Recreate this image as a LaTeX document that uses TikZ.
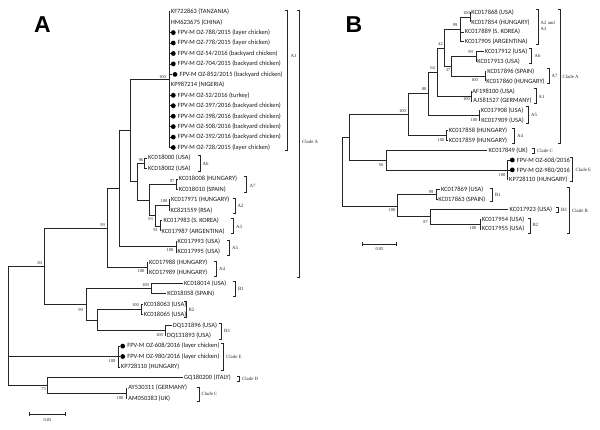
\documentclass[tikz,border=0pt]{standalone}
\usepackage{fontspec}
\setmainfont{Carlito}
\newfontfamily\serifnum{Liberation Serif}
\newfontfamily\boldsans{Liberation Sans}
\newcommand\pleaf[4]{\node[leaf] (#1) at (#2,#3) {#4};}
\newcommand\pdot[4]{\node[dot] (#1) at (#2+2.3,#3) {};\node[leaf] (#1t) at (#2+5.5,#3) {#4};}
\newcommand\pbrk[3]{\draw[bk] (#1-2.5,#2) -- (#1,#2) -- (#1,#3) -- (#1-2.5,#3);}
\begin{document}
\begin{tikzpicture}[x=1pt,y=-1pt,
  br/.style={draw=black!85, line width=0.8pt},
  leaf/.style={anchor=west, inner xsep=1.2pt, inner ysep=0pt, font=\fontsize{6.45}{7.5}\selectfont, text=black!90},
  bs/.style={font=\serifnum\fontsize{4.5}{5}\selectfont, inner sep=0pt, text=black!85},
  cl/.style={anchor=west, font=\serifnum\fontsize{4.8}{5.8}\selectfont, inner sep=0pt, text=black!85, align=left},
  dot/.style={circle, fill=black, inner sep=0pt, minimum size=4.8pt},
  bk/.style={draw=black!85, line width=0.8pt},
  panel/.style={font=\boldsans\bfseries\fontsize{23}{25}\selectfont, inner sep=0pt}]
\useasboundingbox (0,0) rectangle (600,429);

% ---------------- Panel A ----------------
\node[panel] (LA) at (42.5,25) {A};
% internal nodes
\coordinate (rA) at (8.3,326);
\coordinate (V) at (44.3,266.6);
\coordinate (U) at (107,228.2);
\coordinate (T) at (119,188.7);
\coordinate (Q) at (130.7,130.6);
\coordinate (R) at (137,181.6);
\coordinate (S) at (149.3,200);
\coordinate (N23) at (155,215.5);
\coordinate (nA1) at (169,79.6);
\coordinate (nA6) at (144.3,163.2);
\coordinate (nA7) at (176,184.1);
\coordinate (nA2) at (169,205.0);
\coordinate (nA3) at (160.3,225.9);
\coordinate (nA5) at (176,246.8);
\coordinate (nA4) at (147.3,267.7);
\coordinate (BA) at (86,304.3);
\coordinate (nB1) at (151.7,288.6);
\coordinate (W) at (97.3,320);
\coordinate (nB2) at (141.7,309.5);
\coordinate (nB3) at (165,330.4);
\coordinate (nE) at (118.3,356.5);
\coordinate (DC) at (47.7,385.3);
\coordinate (nC) at (126,393.1);

% leaves
\pleaf{a0}{169.5}{11.7}{KF722863 (TANZANIA)}
\pleaf{a1}{169.5}{22.1}{HM623675 (CHINA)}
\pdot{a2}{171}{32.6}{FPV-M OZ-788/2015 (layer chicken)}
\pdot{a3}{171}{43.0}{FPV-M OZ-778/2015 (layer chicken)}
\pdot{a4}{171}{53.5}{FPV-M OZ-54/2016 (backyard chicken)}
\pdot{a5}{171}{63.9}{FPV-M OZ-704/2015 (backyard chicken)}
\pdot{a6}{172.7}{74.4}{FPV-M OZ-852/2015 (backyard chicken)}
\pleaf{a7}{169.5}{84.8}{KP987214 (NIGERIA)}
\pdot{a8}{171}{95.3}{FPV-M OZ-52/2016 (turkey)}
\pdot{a9}{171}{105.7}{FPV-M OZ-397/2016 (backyard chicken)}
\pdot{a10}{171}{116.2}{FPV-M OZ-398/2016 (backyard chicken)}
\pdot{a11}{171}{126.6}{FPV-M OZ-508/2016 (backyard chicken)}
\pdot{a12}{171}{137.1}{FPV-M OZ-392/2016 (backyard chicken)}
\pdot{a13}{171}{147.5}{FPV-M OZ-728/2015 (layer chicken)}
\pleaf{a14}{146.8}{158.0}{KC018000 (USA)}
\pleaf{a15}{146.8}{168.4}{KC018002 (USA)}
\pleaf{a16}{177.5}{178.9}{KC018008 (HUNGARY)}
\pleaf{a17}{177.5}{189.3}{KC018010 (SPAIN)}
\pleaf{a18}{169.8}{199.8}{KC017971 (HUNGARY)}
\pleaf{a19}{169.3}{210.2}{KC821559 (RSA)}
\pleaf{a20}{162.3}{220.7}{KC017983 (S. KOREA)}
\pleaf{a21}{160.3}{231.1}{KC017987 (ARGENTINA)}
\pleaf{a22}{176.3}{241.6}{KC017993 (USA)}
\pleaf{a23}{176.3}{252.0}{KC017995 (USA)}
\pleaf{a24}{147.8}{262.5}{KC017988 (HUNGARY)}
\pleaf{a25}{147.8}{272.9}{KC017989 (HUNGARY)}
\pleaf{a26}{182.7}{283.4}{KC018014 (USA)}
\pleaf{a27}{166}{293.8}{KC018058 (SPAIN)}
\pleaf{a28}{142.5}{304.3}{KC018063 (USA)}
\pleaf{a29}{142.5}{314.7}{KC018065 (USA)}
\pleaf{a30}{171.5}{325.2}{DQ131896 (USA)}
\pleaf{a31}{165.5}{335.6}{DQ131893 (USA)}
\pdot{a32}{120.4}{346.1}{FPV-M OZ-608/2016 (layer chicken)}
\pdot{a33}{120.4}{356.5}{FPV-M OZ-980/2016 (layer chicken)}
\pleaf{a34}{119.5}{367.0}{KP728110 (HUNGARY)}
\pleaf{a35}{182.7}{377.4}{GQ180200 (ITALY)}
\pleaf{a36}{127}{387.9}{AY530311 (GERMANY)}
\pleaf{a37}{127}{398.3}{AM050383 (UK)}

% branches
\draw[br] (rA) |- (V);
\draw[br] (rA) |- (nE);
\draw[br] (rA) |- (DC);
\draw[br] (V) |- (U);
\draw[br] (V) |- (BA);
\draw[br] (U) |- (T);
\draw[br] (U) |- (nA4);
\draw[br] (T) |- (Q);
\draw[br] (T) |- (nA5);
\draw[br] (Q) |- (nA1);
\draw[br] (Q) |- (R);
\draw[br] (R) |- (nA6);
\draw[br] (R) |- (S);
\draw[br] (S) |- (nA7);
\draw[br] (S) |- (N23);
\draw[br] (N23) |- (nA2);
\draw[br] (N23) |- (nA3);
\foreach \l in {a0,a1,a7} \draw[br] (nA1) |- (\l.west);
\foreach \l in {a2,a3,a4,a5,a6,a8,a9,a10,a11,a12,a13} \draw[br] (nA1) |- (\l.west);
\draw[br] (nA6) |- (a14.west);
\draw[br] (nA6) |- (a15.west);
\draw[br] (nA7) |- (a16.west);
\draw[br] (nA7) |- (a17.west);
\draw[br] (nA2) |- (a18.west);
\draw[br] (nA2) |- (a19.west);
\draw[br] (nA3) |- (a20.west);
\draw[br] (nA3) |- (a21.west);
\draw[br] (nA5) |- (a22.west);
\draw[br] (nA5) |- (a23.west);
\draw[br] (nA4) |- (a24.west);
\draw[br] (nA4) |- (a25.west);
\draw[br] (BA) |- (nB1);
\draw[br] (BA) |- (W);
\draw[br] (W) |- (nB2);
\draw[br] (W) |- (nB3);
\draw[br] (nB1) |- (a26.west);
\draw[br] (nB1) |- (a27.west);
\draw[br] (nB2) |- (a28.west);
\draw[br] (nB2) |- (a29.west);
\draw[br] (nB3) |- (a30.west);
\draw[br] (nB3) |- (a31.west);
\draw[br] (nE) |- (a32.west);
\draw[br] (nE) |- (a33.west);
\draw[br] (nE) |- (a34.west);
\draw[br] (DC) |- (a35.west);
\draw[br] (DC) |- (nC);
\draw[br] (nC) |- (a36.west);
\draw[br] (nC) |- (a37.west);

% bootstrap values
\node[bs] (ba1) at (162.5,76.7) {100};
\node[bs] (ba2) at (141,160) {96};
\node[bs] (ba3) at (172,181) {97};
\node[bs] (ba4) at (164,201.5) {100};
\node[bs] (ba5) at (150.5,219.3) {93};
\node[bs] (ba6) at (155.5,230) {91};
\node[bs] (ba7) at (170,250) {100};
\node[bs] (ba8) at (141,271.5) {100};
\node[bs] (ba9) at (102.5,225) {99};
\node[bs] (ba10) at (40,263.5) {83};
\node[bs] (ba11) at (80.5,310) {99};
\node[bs] (ba12) at (145.5,285) {100};
\node[bs] (ba13) at (135.5,305) {100};
\node[bs] (ba14) at (159.5,335) {100};
\node[bs] (ba15) at (112,361.5) {100};
\node[bs] (ba16) at (43.5,389.5) {73};
\node[bs] (ba17) at (120,398.3) {100};

% clade brackets
\pbrk{287.5}{10}{150}   \node[cl] (cA1) at (290.5,56) {A1};
\pbrk{299.3}{10}{277}   \node[cl] (cAA) at (302,142) {Clade A};
\pbrk{200}{155}{171.7}  \node[cl] (cA6) at (202.5,164) {A6};
\pbrk{246.7}{176.7}{192.7} \node[cl] (cA7) at (249.5,186) {A7};
\pbrk{235}{198}{213}    \node[cl] (cA2) at (237.5,205.5) {A2};
\pbrk{233.3}{218}{233}  \node[cl] (cA3) at (236,226.5) {A3};
\pbrk{229.3}{240}{255}  \node[cl] (cA5) at (232,247.5) {A5};
\pbrk{216.7}{261}{276}  \node[cl] (cA4) at (219,268.5) {A4};
\pbrk{235}{281.7}{296.7} \node[cl] (cB1) at (238,289) {B1};
\pbrk{186}{301.7}{317.3} \node[cl] (cB2) at (188.5,309.5) {B2};
\pbrk{221}{323}{339}    \node[cl] (cB3) at (224,331) {B3};
\pbrk{223.2}{343}{370}  \node[cl] (cAE) at (226,357) {Clade E};
\pbrk{239.3}{376}{381.7} \node[cl] (cAD) at (242,379) {Clade D};
\pbrk{199}{387}{401.7}  \node[cl] (cAC) at (201.5,394.3) {Clade C};

% scale bar A
\coordinate (sa1) at (29.3,414);
\coordinate (sa2) at (65.7,414);
\draw[br] (sa1) -- (sa2);
\draw[br] ([yshift=-2pt]sa1) -- ([yshift=2pt]sa1);
\draw[br] ([yshift=-2pt]sa2) -- ([yshift=2pt]sa2);
\node[bs] (sta) at (47.5,420.5) {0.05};

% ---------------- Panel B ----------------
\node[panel] (LB) at (354,25) {B};
\coordinate (rB) at (342.3,171.6);
\coordinate (G7) at (349.3,137.3);
\coordinate (G6) at (408.3,114.6);
\coordinate (G5) at (428.3,93.85);
\coordinate (G4) at (437.3,72);
\coordinate (G2) at (444,48);
\coordinate (G1) at (460,29.5);
\coordinate (P1) at (470,17.2);
\coordinate (G3) at (451.7,66.5);
\coordinate (bA6) at (476,56.6);
\coordinate (bA7) at (485,76.3);
\coordinate (bA1) at (471,96);
\coordinate (bA5) at (479.3,115.7);
\coordinate (bA4) at (446.7,135.4);
\coordinate (H) at (386,160);
\coordinate (bE) at (507.3,169.9);
\coordinate (BB) at (397.3,205.9);
\coordinate (bB1) at (436.7,194.5);
\coordinate (BB2) at (430,216.7);
\coordinate (bB2) at (480,224.1);

\pleaf{b0}{470}{12.3}{KC017868 (USA)}
\pleaf{b1}{470}{22.15}{KC017854 (HUNGARY)}
\pleaf{b2}{463.5}{32.0}{KC017889 (S. KOREA)}
\pleaf{b3}{463.5}{41.85}{KC017905 (ARGENTINA)}
\pleaf{b4}{483.5}{51.7}{KC017912 (USA)}
\pleaf{b5}{476}{61.55}{KC017913 (USA)}
\pleaf{b6}{486}{71.4}{KC017896 (SPAIN)}
\pleaf{b7}{485}{81.25}{KC017860 (HUNGARY)}
\pleaf{b8}{471}{91.1}{AF198100 (USA)}
\pleaf{b9}{472}{100.95}{AJ581527 (GERMANY)}
\pleaf{b10}{479.5}{110.8}{KC017908 (USA)}
\pleaf{b11}{480}{120.65}{KC017909 (USA)}
\pleaf{b12}{447.5}{130.5}{KC017858 (HUNGARY)}
\pleaf{b13}{447.5}{140.35}{KC017859 (HUNGARY)}
\pleaf{b14}{487.3}{150.2}{KC017849 (UK)}
\pdot{b15}{510}{160.05}{FPV-M OZ-608/2016}
\pdot{b16}{510}{169.9}{FPV-M OZ-980/2016}
\pleaf{b17}{507.8}{179.75}{KP728110 (HUNGARY)}
\pleaf{b18}{439.7}{189.6}{KC017869 (USA)}
\pleaf{b19}{437}{199.45}{KC017863 (SPAIN)}
\pleaf{b20}{508.3}{209.3}{KC017923 (USA)}
\pleaf{b21}{480.5}{219.15}{KC017954 (USA)}
\pleaf{b22}{480.5}{229.0}{KC017955 (USA)}

\draw[br] (rB) |- (G7);
\draw[br] (rB) |- (BB);
\draw[br] (G7) |- (G6);
\draw[br] (G7) |- (H);
\draw[br] (G6) |- (G5);
\draw[br] (G6) |- (bA4);
\draw[br] (G5) |- (G4);
\draw[br] (G5) |- (bA5);
\draw[br] (G4) |- (G2);
\draw[br] (G4) |- (bA1);
\draw[br] (G2) |- (G1);
\draw[br] (G2) |- (G3);
\draw[br] (G1) |- (P1);
\draw[br] (G1) |- (b2.west);
\draw[br] (G1) |- (b3.west);
\draw[br] (P1) |- (b0.west);
\draw[br] (P1) |- (b1.west);
\draw[br] (G3) |- (bA6);
\draw[br] (G3) |- (bA7);
\draw[br] (bA6) |- (b4.west);
\draw[br] (bA6) |- (b5.west);
\draw[br] (bA7) |- (b6.west);
\draw[br] (bA7) |- (b7.west);
\draw[br] (bA1) |- (b8.west);
\draw[br] (bA1) |- (b9.west);
\draw[br] (bA5) |- (b10.west);
\draw[br] (bA5) |- (b11.west);
\draw[br] (bA4) |- (b12.west);
\draw[br] (bA4) |- (b13.west);
\draw[br] (H) |- (b14.west);
\draw[br] (H) |- (bE);
\draw[br] (bE) |- (b15.west);
\draw[br] (bE) |- (b16.west);
\draw[br] (bE) |- (b17.west);
\draw[br] (BB) |- (bB1);
\draw[br] (BB) |- (BB2);
\draw[br] (bB1) |- (b18.west);
\draw[br] (bB1) |- (b19.west);
\draw[br] (BB2) |- (b20.west);
\draw[br] (BB2) |- (bB2);
\draw[br] (bB2) |- (b21.west);
\draw[br] (bB2) |- (b22.west);

\node[bs] (bb1) at (466.5,12.7) {100};
\node[bs] (bb2) at (455,25) {99};
\node[bs] (bb3) at (440.5,44) {42};
\node[bs] (bb4) at (448,70) {37};
\node[bs] (bb5) at (470.5,51.7) {99};
\node[bs] (bb6) at (474.5,80) {100};
\node[bs] (bb7) at (432.5,68.3) {64};
\node[bs] (bb8) at (424,89.5) {80};
\node[bs] (bb9) at (466.5,99.3) {100};
\node[bs] (bb10) at (402.5,111) {100};
\node[bs] (bb11) at (474,120) {100};
\node[bs] (bb12) at (441,140) {100};
\node[bs] (bb13) at (381,165) {56};
\node[bs] (bb14) at (502,175) {100};
\node[bs] (bb15) at (431,191.7) {99};
\node[bs] (bb16) at (392,210) {100};
\node[bs] (bb17) at (425.5,222.3) {87};
\node[bs] (bb18) at (473,228.3) {100};

\pbrk{538.3}{9.3}{44}     \node[cl] (dA23) at (540.5,26) {A2 and\\A3};
\pbrk{531.7}{48.3}{63.3}  \node[cl] (dA6) at (534.5,56) {A6};
\pbrk{549}{68.3}{83.3}    \node[cl] (dA7) at (551.5,76) {A7};
\pbrk{536}{88.3}{103.3}   \node[cl] (dA1) at (538.5,96.5) {A1};
\pbrk{528.3}{106.7}{123.3} \node[cl] (dA5) at (531,115) {A5};
\pbrk{514.3}{128.3}{143.3} \node[cl] (dA4) at (517,136) {A4};
\pbrk{560.5}{9.3}{143.3}  \node[cl] (dAA) at (562.5,76.5) {Clade A};
\pbrk{534.3}{148.3}{153.3} \node[cl] (dAC) at (537,151) {Clade C};
\pbrk{572.7}{157.3}{181.7} \node[cl] (dAE) at (575.5,170) {Clade E};
\pbrk{492.7}{188}{201.7}  \node[cl] (dB1) at (495,195) {B1};
\pbrk{558.3}{207.5}{212.5} \node[cl] (dB3) at (561,210) {B3};
\pbrk{530}{218.3}{233.3}  \node[cl] (dB2) at (532.5,225) {B2};
\pbrk{569.3}{187.3}{233.3} \node[cl] (dBB) at (572,210.5) {Clade B};

\coordinate (sb1) at (362.7,244);
\coordinate (sb2) at (396.7,244);
\draw[br] (sb1) -- (sb2);
\draw[br] ([yshift=-2pt]sb1) -- ([yshift=2pt]sb1);
\draw[br] ([yshift=-2pt]sb2) -- ([yshift=2pt]sb2);
\node[bs] (stb) at (379.5,249.5) {0.05};
\end{tikzpicture}
\end{document}
